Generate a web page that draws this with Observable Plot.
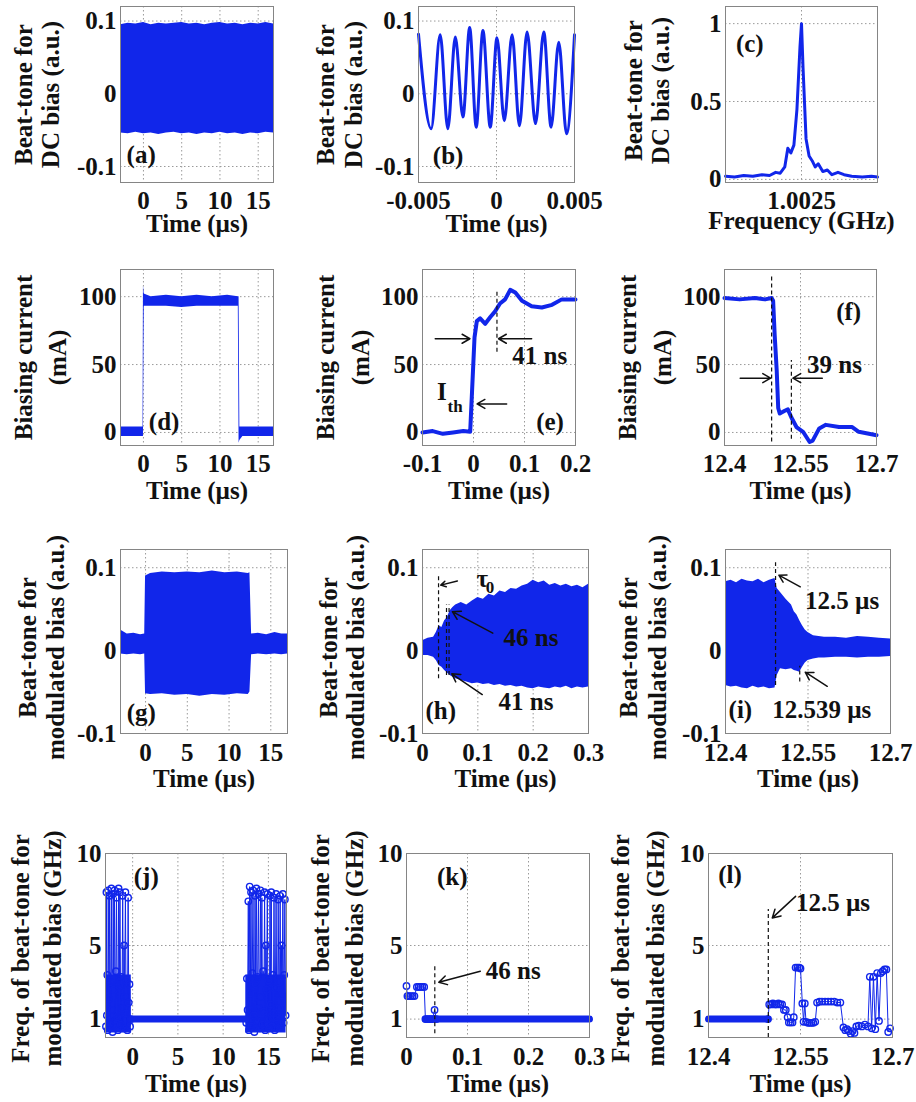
<!DOCTYPE html>
<html><head><meta charset="utf-8">
<script src="https://cdn.jsdelivr.net/npm/d3@7"></script>
<script src="https://cdn.jsdelivr.net/npm/@observablehq/plot@0.6"></script>
<style>
html,body{margin:0;padding:0;background:#fff;}
#root{position:relative;width:916px;height:1102px;overflow:hidden;background:#fff;}
.cell{position:absolute;}
.cell svg{max-width:none;overflow:visible;background:transparent;}
</style></head><body><div id="root"></div>
<script>
// ================= DATA =================
// tick values
const timeTicksLong = [0, 5, 10, 15];
const beatTicks = [-0.1, 0, 0.1];
const bXTicks = [-0.005, 0, 0.005];
const cXTicks = [1.0025];
const cYTicks = [0, 0.5, 1];
const currentTicks = [0, 50, 100];
const eXTicks = [-0.1, 0, 0.1, 0.2];
const fallTicks = [12.4, 12.55, 12.7];
const riseTicks = [0, 0.1, 0.2, 0.3];
const freqTicks = [1, 5, 10];

// (a) beat-tone envelope, DC bias
const aTime  = [-3,-2,-1,0,1,2,3,4,5,6,7,8,9,10,11,12,13,14,15,16,17];
const aUpper = [0.095,0.097,0.096,0.098,0.095,0.097,0.096,0.097,0.098,0.096,0.097,0.095,0.097,0.098,0.096,0.097,0.095,0.097,0.096,0.098,0.096];
const aLower = [-0.054,-0.055,-0.053,-0.055,-0.054,-0.056,-0.054,-0.053,-0.055,-0.054,-0.056,-0.054,-0.055,-0.053,-0.055,-0.054,-0.056,-0.054,-0.055,-0.053,-0.054];

// (b) beat-tone waveform extrema
const bTime  = [-0.00500,-0.00419,-0.00361,-0.00312,-0.00264,-0.00215,-0.00172,-0.00130,-0.00087,-0.00040,0.00003,0.00050,0.00100,0.00147,0.00196,0.00250,0.00303,0.00350,0.00399,0.00449,0.00500];
const bValue = [0.082,-0.048,0.081,-0.048,0.078,-0.032,0.091,-0.046,0.087,-0.046,0.077,-0.037,0.081,-0.044,0.085,-0.041,0.085,-0.046,0.071,-0.055,0.081];

// (c) spectrum
const cFreq = [1.00200,1.00206,1.00212,1.00218,1.00224,1.00229,1.00233,1.00236,1.00239,1.00241,1.00243,1.00245,1.00247,1.00249,1.00250,1.00251,1.00253,1.00255,1.00257,1.00259,1.00261,1.00264,1.00267,1.00270,1.00274,1.00278,1.00283,1.00290,1.00296,1.00300];
const cAmp  = [0.02,0.015,0.025,0.02,0.03,0.025,0.045,0.04,0.08,0.2,0.17,0.22,0.45,0.85,1.0,0.72,0.26,0.15,0.12,0.08,0.1,0.05,0.06,0.03,0.045,0.03,0.02,0.015,0.02,0.015];

// (d) biasing current band
const dTime  = [-3,-1,-0.05,0,0.1,1,3,5,7,9,11,12.4,12.5,12.6,13,15,17];
const dLower = [-3,-3,-3,-3,93,93,93,92,93,93,93,93,-8,-6,-3,-3,-3];
const dUpper = [4,4,4,108,102,100,101,100,101,100,101,100,100,4,4,4,4];

// (e) rising edge of current
const eTime  = [-0.1,-0.08,-0.06,-0.04,-0.02,-0.0065,0.002,0.0065,0.013,0.023,0.033,0.042,0.052,0.062,0.072,0.082,0.095,0.114,0.134,0.154,0.173,0.2];
const eValue = [0,1,-1,0,1,0.5,70,82,84,80,85,89,95,98,105,103,97,93,92,94,98,98];

// (f) falling edge of current
const fTime  = [12.4,12.43,12.46,12.48,12.493,12.496,12.499,12.503,12.506,12.509,12.519,12.525,12.532,12.542,12.555,12.568,12.574,12.587,12.6,12.626,12.652,12.665,12.7];
const fValue = [99,98,99,98,99,97,72,46,18,14,16,17,11,4,0.5,-7,-6,3,5.6,4,4,0.5,-2];

// (g) beat-tone envelope, modulated bias
const gTime  = [-3,-2.2,-1.4,-0.6,-0.1,0,0.6,2,3.5,5,6.5,8,9.5,11,12.3,12.5,12.7,13.5,14.5,15.5,16.3,17];
const gUpper = [0.025,0.02,0.021,0.019,0.02,0.09,0.093,0.095,0.094,0.095,0.094,0.096,0.094,0.095,0.093,0.094,0.02,0.021,0.019,0.022,0.02,0.02];
const gLower = [-0.004,-0.005,-0.004,-0.005,-0.004,-0.052,-0.053,-0.052,-0.054,-0.053,-0.055,-0.053,-0.054,-0.052,-0.053,-0.05,-0.005,-0.004,-0.005,-0.004,-0.005,-0.004];

// (h) beat-tone envelope at turn-on
const hTime  = [0,0.01,0.02,0.025,0.03,0.035,0.04,0.045,0.05,0.055,0.06,0.07,0.08,0.09,0.1,0.11,0.12,0.13,0.14,0.15,0.16,0.17,0.18,0.19,0.2,0.21,0.22,0.23,0.24,0.25,0.26,0.27,0.28,0.29,0.3];
const hUpper = [0.012,0.015,0.016,0.022,0.03,0.028,0.036,0.04,0.048,0.052,0.055,0.058,0.055,0.06,0.064,0.062,0.068,0.066,0.072,0.07,0.075,0.074,0.078,0.08,0.085,0.082,0.084,0.079,0.081,0.078,0.08,0.077,0.079,0.076,0.08];
const hLower = [-0.006,-0.006,-0.008,-0.012,-0.018,-0.02,-0.024,-0.027,-0.03,-0.032,-0.034,-0.036,-0.038,-0.04,-0.039,-0.041,-0.04,-0.042,-0.041,-0.043,-0.042,-0.044,-0.043,-0.045,-0.046,-0.044,-0.045,-0.046,-0.044,-0.045,-0.043,-0.046,-0.044,-0.045,-0.044];

// (i) beat-tone envelope at turn-off
const iTime  = [12.4,12.41,12.42,12.43,12.44,12.45,12.46,12.47,12.48,12.49,12.494,12.5,12.51,12.52,12.525,12.53,12.535,12.54,12.545,12.55,12.56,12.57,12.58,12.6,12.62,12.64,12.66,12.68,12.7];
const iUpper = [0.083,0.085,0.082,0.086,0.084,0.083,0.086,0.082,0.085,0.087,0.075,0.07,0.062,0.055,0.047,0.043,0.036,0.03,0.025,0.022,0.018,0.017,0.016,0.016,0.015,0.017,0.016,0.015,0.014];
const iLower = [-0.042,-0.044,-0.043,-0.045,-0.046,-0.043,-0.045,-0.044,-0.046,-0.045,-0.03,-0.022,-0.023,-0.022,-0.024,-0.025,-0.026,-0.02,-0.015,-0.012,-0.01,-0.009,-0.009,-0.008,-0.008,-0.009,-0.008,-0.008,-0.007];

// (j) beat-tone frequency, full pulse
const jLeftTime = [-2.95,-2.9,-2.85,-2.8,-2.75,-2.7,-2.62,-2.55,-2.5,-2.42,-2.35,-2.3,-2.22,-2.15,-2.08,-2.0,-1.93,-1.85,-1.78,-1.7,-1.62,-1.55,-1.48,-1.4,-1.32,-1.25,-1.18,-1.1,-1.02,-0.95,-0.88,-0.8,-0.72,-0.65,-0.58,-0.5,-0.43,-0.35,-0.28,-0.2];
const jLeftFreq = [0.6,7.9,1.2,3.4,0.4,8.0,2.1,7.7,0.8,3.0,8.1,1.5,0.3,7.8,2.6,8.0,0.9,3.6,7.6,1.1,0.4,8.1,2.8,7.9,0.7,3.3,1.6,7.7,0.5,5.0,2.2,7.9,1.3,3.1,0.4,7.6,1.9,2.9,0.6,1.0];
const jRightTime = [12.55,12.62,12.7,12.78,12.85,12.93,13.0,13.08,13.15,13.22,13.3,13.38,13.45,13.52,13.6,13.68,13.75,13.82,13.9,13.98,14.05,14.12,14.2,14.28,14.35,14.42,14.5,14.58,14.65,14.72,14.8,14.88,14.95,15.02,15.1,15.18,15.25,15.32,15.4,15.48,15.55,15.62,15.7,15.78,15.85,15.92,16.0,16.08,16.15,16.22,16.3,16.38,16.45,16.52,16.6,16.68,16.75,16.82,16.9];
const jRightFreq = [0.8,3.2,1.5,7.4,0.4,8.2,2.4,7.9,0.6,3.5,8.0,1.2,0.3,7.7,2.9,8.1,0.9,3.3,7.8,1.6,0.5,8.0,2.2,7.6,0.7,3.6,1.4,7.9,0.4,5.0,2.6,7.8,1.0,3.1,0.5,7.7,1.8,7.9,0.6,3.4,1.3,7.6,0.4,2.7,7.8,1.1,0.5,7.5,3.0,1.6,7.7,0.6,5.0,2.3,7.8,0.8,3.4,7.5,1.2];
const jBandLeftTime = [-2.95,-0.15];
const jBandRightTime = [12.5,16.95];
const jBandLow = [0.25,0.25];
const jBandHigh = [3.4,3.4];
const jSteadyTime = [-0.1,12.5];
const jSteadyFreq = [1,1];

// (k) beat-tone frequency at turn-on
const kTime = [0,0.0015,0.004,0.007,0.01,0.013,0.017,0.02,0.023,0.026,0.029,0.031,0.034,0.037,0.04,0.043,0.046,0.049];
const kFreq = [2.8,2.25,2.25,2.25,2.25,2.25,2.75,2.75,2.75,2.75,2.75,1.0,1.0,1.0,1.0,1.0,1.5,1.0];
const kSteadyTime = [0.031,0.3];
const kSteadyFreq = [1,1];

// (l) beat-tone frequency at turn-off
const lTime = [12.497,12.499,12.502,12.505,12.508,12.511,12.514,12.517,12.52,12.523,12.526,12.529,12.531,12.534,12.537,12.539,12.542,12.545,12.548,12.55,12.553,12.555,12.557,12.559,12.562,12.565,12.568,12.571,12.574,12.577,12.581,12.585,12.59,12.595,12.6,12.605,12.61,12.615,12.62,12.623,12.626,12.629,12.632,12.635,12.638,12.641,12.645,12.65,12.655,12.66,12.663,12.666,12.669,12.672,12.675,12.678,12.681,12.684,12.687,12.69,12.693,12.696];
const lFreq = [1.0,1.8,1.8,1.85,1.8,1.8,1.85,1.8,1.8,1.5,1.5,1.1,0.82,0.82,0.82,1.1,3.8,3.8,3.8,3.75,1.85,0.85,1.85,0.85,0.8,0.8,0.8,0.8,0.85,1.9,1.95,1.95,1.95,1.95,1.95,1.95,1.9,1.9,0.55,0.4,0.45,0.35,0.2,0.35,0.25,0.6,0.65,0.6,0.7,0.6,3.3,0.5,3.3,0.45,3.5,0.9,3.5,3.6,3.7,3.7,0.3,0.5];
const lSteadyTime = [12.4,12.497];
const lSteadyFreq = [1,1];

// annotations (data coordinates)
const eNotes  = [{x:-0.062,y:30,s:"I"},{x:0.13,y:56,s:"41 ns"},{x:0.15,y:8,s:"(e)"}];
const eSubs   = [{x:-0.036,y:19,s:"th"}];
const eArrows = [{x1:-0.075,y1:69,x2:-0.007,y2:69},{x1:0.065,y1:21,x2:0.007,y2:21},{x1:0.114,y1:69,x2:0.049,y2:69}];
const eDashes = [{x:0.046,y1:59,y2:104}];
const fNotes  = [{x:12.645,y:89,s:"(f)"},{x:12.617,y:50,s:"39 ns"}];
const fArrows = [{x1:12.431,y1:40,x2:12.491,y2:40},{x1:12.593,y1:40,x2:12.535,y2:40}];
const fDashes = [{x:12.493,y1:-7,y2:115},{x:12.532,y1:-5,y2:53}];
const hNotes  = [{x:0.108,y:0.087,s:"τ"},{x:0.196,y:0.015,s:"46 ns"},{x:0.187,y:-0.062,s:"41 ns"},{x:0.033,y:-0.073,s:"(h)"}];
const hSubs   = [{x:0.122,y:0.076,s:"0"}];
const hArrows = [{x1:0.063,y1:0.084,x2:0.033,y2:0.079},{x1:0.127,y1:0.021,x2:0.054,y2:0.047},{x1:0.108,y1:-0.053,x2:0.053,y2:-0.028}];
const hDashes = [{x:0.029,y1:-0.034,y2:0.09},{x:0.0434,y1:-0.03,y2:0.055},{x:0.048,y1:-0.03,y2:0.055}];
const iNotes  = [{x:12.612,y:0.06,s:"12.5 µs"},{x:12.575,y:-0.072,s:"12.539 µs"},{x:12.427,y:-0.072,s:"(i)"}];
const iArrows = [{x1:12.536,y1:0.077,x2:12.497,y2:0.091},{x1:12.585,y1:-0.043,x2:12.545,y2:-0.026}];
const iDashes = [{x:12.491,y1:-0.042,y2:0.106},{x:12.535,y1:-0.038,y2:-0.019}];
const jNotes  = [{x:1.5,y:8.7,s:"(j)"}];
const kNotes  = [{x:0.075,y:8.75,s:"(k)"},{x:0.175,y:3.6,s:"46 ns"}];
const kArrows = [{x1:0.121,y1:3.6,x2:0.053,y2:3.0}];
const kDashes = [{x:0.0464,y1:0.2,y2:3.9}];
const lNotes  = [{x:12.435,y:8.84,s:"(l)"},{x:12.603,y:7.3,s:"12.5 µs"}];
const lArrows = [{x1:12.542,y1:7.67,x2:12.504,y2:6.5}];
const lDashes = [{x:12.4975,y1:0,y2:6.95}];
const simpleNotes = {a:[{x:-0.3,y:-0.084,s:"(a)"}], b:[{x:-0.0031,y:-0.085,s:"(b)"}], c:[{x:1.00216,y:0.87,s:"(c)"}], d:[{x:2.7,y:7.5,s:"(d)"}], g:[{x:-0.5,y:-0.075,s:"(g)"}]};

// ================= DRAWING =================
const BLUE = "#1126ea";
const INK = "#111";
const FONT = "'Liberation Serif','Times New Roman',serif";
const FS = 25;
const root = document.getElementById("root");

const band = (t, lo, hi) => t.map((d, i) => ({t: d, lo: lo[i], hi: hi[i]}));
const pts = (t, v) => t.map((d, i) => ({t: d, v: v[i]}));
const notes = (arr, size = FS) => Plot.text(arr, {x: "x", y: "y", text: "s", fontSize: size, fontWeight: "bold", fill: INK});
const arrows = arr => Plot.arrow(arr, {x1: "x1", y1: "y1", x2: "x2", y2: "y2", stroke: INK, strokeWidth: 1.5, headLength: 9});
const dashes = arr => Plot.ruleX(arr, {x: "x", y1: "y1", y2: "y2", stroke: INK, strokeWidth: 1.2, strokeDasharray: "4,3"});
const area = data => Plot.areaY(data, {x: "t", y1: "lo", y2: "hi", fill: BLUE});
const line = (data, w) => Plot.line(data, {x: "t", y: "v", stroke: BLUE, strokeWidth: w});
const dots = data => Plot.dot(data, {x: "t", y: "v", r: 3.2, stroke: BLUE, strokeWidth: 1.4, fill: "none"});

function panel(o) {
  const marks = [
    Plot.ruleX(o.xt, {stroke: "#9a9a9a", strokeWidth: 1, strokeDasharray: "1.5,2.5"}),
    Plot.ruleY(o.yt, {stroke: "#9a9a9a", strokeWidth: 1, strokeDasharray: "1.5,2.5"}),
    ...o.marks,
    Plot.frame({stroke: "#858585", strokeWidth: 1}),
    ...o.ylab.map((s, i) => Plot.text([s], {frameAnchor: "left", textAnchor: "middle", lineAnchor: "middle", dx: o.ydx[i], dy: o.ydy || 0, rotate: -90, fontSize: FS, fontWeight: "bold", fill: INK})),
    Plot.text([o.xlab], {frameAnchor: "bottom", textAnchor: "middle", lineAnchor: "middle", dy: o.xdy, fontSize: FS, fontWeight: "bold", fill: INK})
  ];
  const svg = Plot.plot({
    width: o.W, height: o.H,
    marginLeft: o.fl - o.left, marginRight: o.left + o.W - o.fr,
    marginTop: o.ft - o.top, marginBottom: o.top + o.H - o.fb,
    style: {fontFamily: FONT, fontSize: FS + "px", fontWeight: "bold", color: INK, background: "transparent", overflow: "visible"},
    x: {domain: o.xd, ticks: o.xt, tickFormat: d => String(d), tickSize: 0, tickPadding: o.xtp, label: null},
    y: {domain: o.yd, ticks: o.yt, tickFormat: d => String(d), tickSize: 0, tickPadding: 4, label: null},
    marks
  });
  const div = document.createElement("div");
  div.className = "cell";
  div.style.left = o.left + "px";
  div.style.top = o.top + "px";
  div.appendChild(svg);
  root.appendChild(div);
}

const R1 = {top: 0, H: 262, ft: 6, fb: 182, xtp: 9, xdy: 41};
const R2 = {top: 262, H: 258, ft: 269, fb: 445, xtp: 9, xdy: 45};
const R3 = {top: 520, H: 300, ft: 549, fb: 733, xtp: 10, xdy: 45};
const R4 = {top: 820, H: 282, ft: 853, fb: 1037, xtp: 10, xdy: 46};
const C1 = {left: 0, W: 310}, C2 = {left: 300, W: 310}, C3 = {left: 600, W: 316};
const time = "Time (µs)";

// Row 1
panel({...R1, ...C1, fl: 120, fr: 273, xd: [-3, 17], yd: [-0.122, 0.12], xt: timeTicksLong, yt: beatTicks,
  ylab: ["Beat-tone for", "DC bias (a.u.)"], ydx: [-97, -70], xlab: time,
  marks: [area(band(aTime, aLower, aUpper)), notes(simpleNotes.a)]});
panel({...R1, ...C2, fl: 418, fr: 574, xd: [-0.005, 0.005], yd: [-0.122, 0.12], xt: bXTicks, yt: beatTicks,
  ylab: ["Beat-tone for", "DC bias (a.u.)"], ydx: [-93, -65], xlab: time,
  marks: [Plot.line(pts(bTime, bValue), {x: "t", y: "v", stroke: BLUE, strokeWidth: 3, curve: "monotone-x"}), notes(simpleNotes.b)]});
panel({...R1, ...C3, fl: 725, fr: 877, xd: [1.002, 1.003], yd: [-0.02, 1.11], xt: cXTicks, yt: cYTicks,
  ylab: ["Beat-tone for", "DC bias (a.u.)"], ydx: [-92, -65], ydy: -4, xlab: "Frequency (GHz)", xdy: 38,
  marks: [line(pts(cFreq, cAmp), 3), notes(simpleNotes.c)]});

// Row 2
panel({...R2, ...C1, fl: 120, fr: 273, xd: [-3, 17], yd: [-9.6, 120], xt: timeTicksLong, yt: currentTicks,
  ylab: ["Biasing current", "(mA)"], ydx: [-97, -63], xlab: time,
  marks: [area(band(dTime, dLower, dUpper)), notes(simpleNotes.d)]});
panel({...R2, ...C2, fl: 422, fr: 575, xd: [-0.1, 0.2], yd: [-9.6, 120], xt: eXTicks, yt: currentTicks,
  ylab: ["Biasing current", "(mA)"], ydx: [-97, -62], xlab: time,
  marks: [line(pts(eTime, eValue), 4), dashes(eDashes), arrows(eArrows), notes(eNotes), notes(eSubs, 17)]});
panel({...R2, ...C3, fl: 724, fr: 876, xd: [12.4, 12.7], yd: [-9.6, 120], xt: fallTicks, yt: currentTicks,
  ylab: ["Biasing current", "(mA)"], ydx: [-97, -62], xlab: time,
  marks: [line(pts(fTime, fValue), 4), dashes(fDashes), arrows(fArrows), notes(fNotes)]});

// Row 3
panel({...R3, ...C1, fl: 120, fr: 287, xd: [-3, 17], yd: [-0.1, 0.122], xt: timeTicksLong, yt: beatTicks,
  ylab: ["Beat-tone for", "modulated bias (a.u.)"], ydx: [-93, -65], ydy: 6, xlab: time,
  marks: [area(band(gTime, gLower, gUpper)), notes(simpleNotes.g)]});
panel({...R3, ...C2, fl: 422, fr: 588, xd: [0, 0.3], yd: [-0.1, 0.122], xt: riseTicks, yt: beatTicks,
  ylab: ["Beat-tone for", "modulated bias (a.u.)"], ydx: [-94, -67], ydy: 6, xlab: time,
  marks: [area(band(hTime, hLower, hUpper)), dashes(hDashes), arrows(hArrows), notes(hNotes), notes(hSubs, 17)]});
panel({...R3, ...C3, fl: 725, fr: 890, xd: [12.4, 12.7], yd: [-0.1, 0.122], xt: fallTicks, yt: beatTicks,
  ylab: ["Beat-tone for", "modulated bias (a.u.)"], ydx: [-97, -68], ydy: 6, xlab: time,
  marks: [area(band(iTime, iLower, iUpper)), dashes(iDashes), arrows(iArrows), notes(iNotes)]});

// Row 4
panel({...R4, ...C1, fl: 105, fr: 286, xd: [-3, 17], yd: [0, 10], xt: timeTicksLong, yt: freqTicks,
  ylab: ["Freq. of beat-tone for", "modulated bias (GHz)"], ydx: [-85, -53], ydy: 3, xlab: time,
  marks: [
    area(band(jBandLeftTime, jBandLow, jBandHigh)), area(band(jBandRightTime, jBandLow, jBandHigh)),
    line(pts(jLeftTime, jLeftFreq), 1), dots(pts(jLeftTime, jLeftFreq)),
    line(pts(jRightTime, jRightFreq), 1), dots(pts(jRightTime, jRightFreq)),
    line(pts(jSteadyTime, jSteadyFreq), 7),
    notes(jNotes)]});
panel({...R4, ...C2, fl: 406, fr: 589, xd: [0, 0.3], yd: [0, 10], xt: riseTicks, yt: freqTicks,
  ylab: ["Freq. of beat-tone for", "modulated bias (GHz)"], ydx: [-86, -52], ydy: 3, xlab: time,
  marks: [line(pts(kSteadyTime, kSteadyFreq), 7), line(pts(kTime, kFreq), 1), dots(pts(kTime, kFreq)),
    dashes(kDashes), arrows(kArrows), notes(kNotes)]});
panel({...R4, ...C3, fl: 708, fr: 892, xd: [12.4, 12.7], yd: [0, 10], xt: fallTicks, yt: freqTicks,
  ylab: ["Freq. of beat-tone for", "modulated bias (GHz)"], ydx: [-88, -53], ydy: 3, xlab: time,
  marks: [line(pts(lSteadyTime, lSteadyFreq), 7), line(pts(lTime, lFreq), 1), dots(pts(lTime, lFreq)),
    dashes(lDashes), arrows(lArrows), notes(lNotes)]});
</script></body></html>
